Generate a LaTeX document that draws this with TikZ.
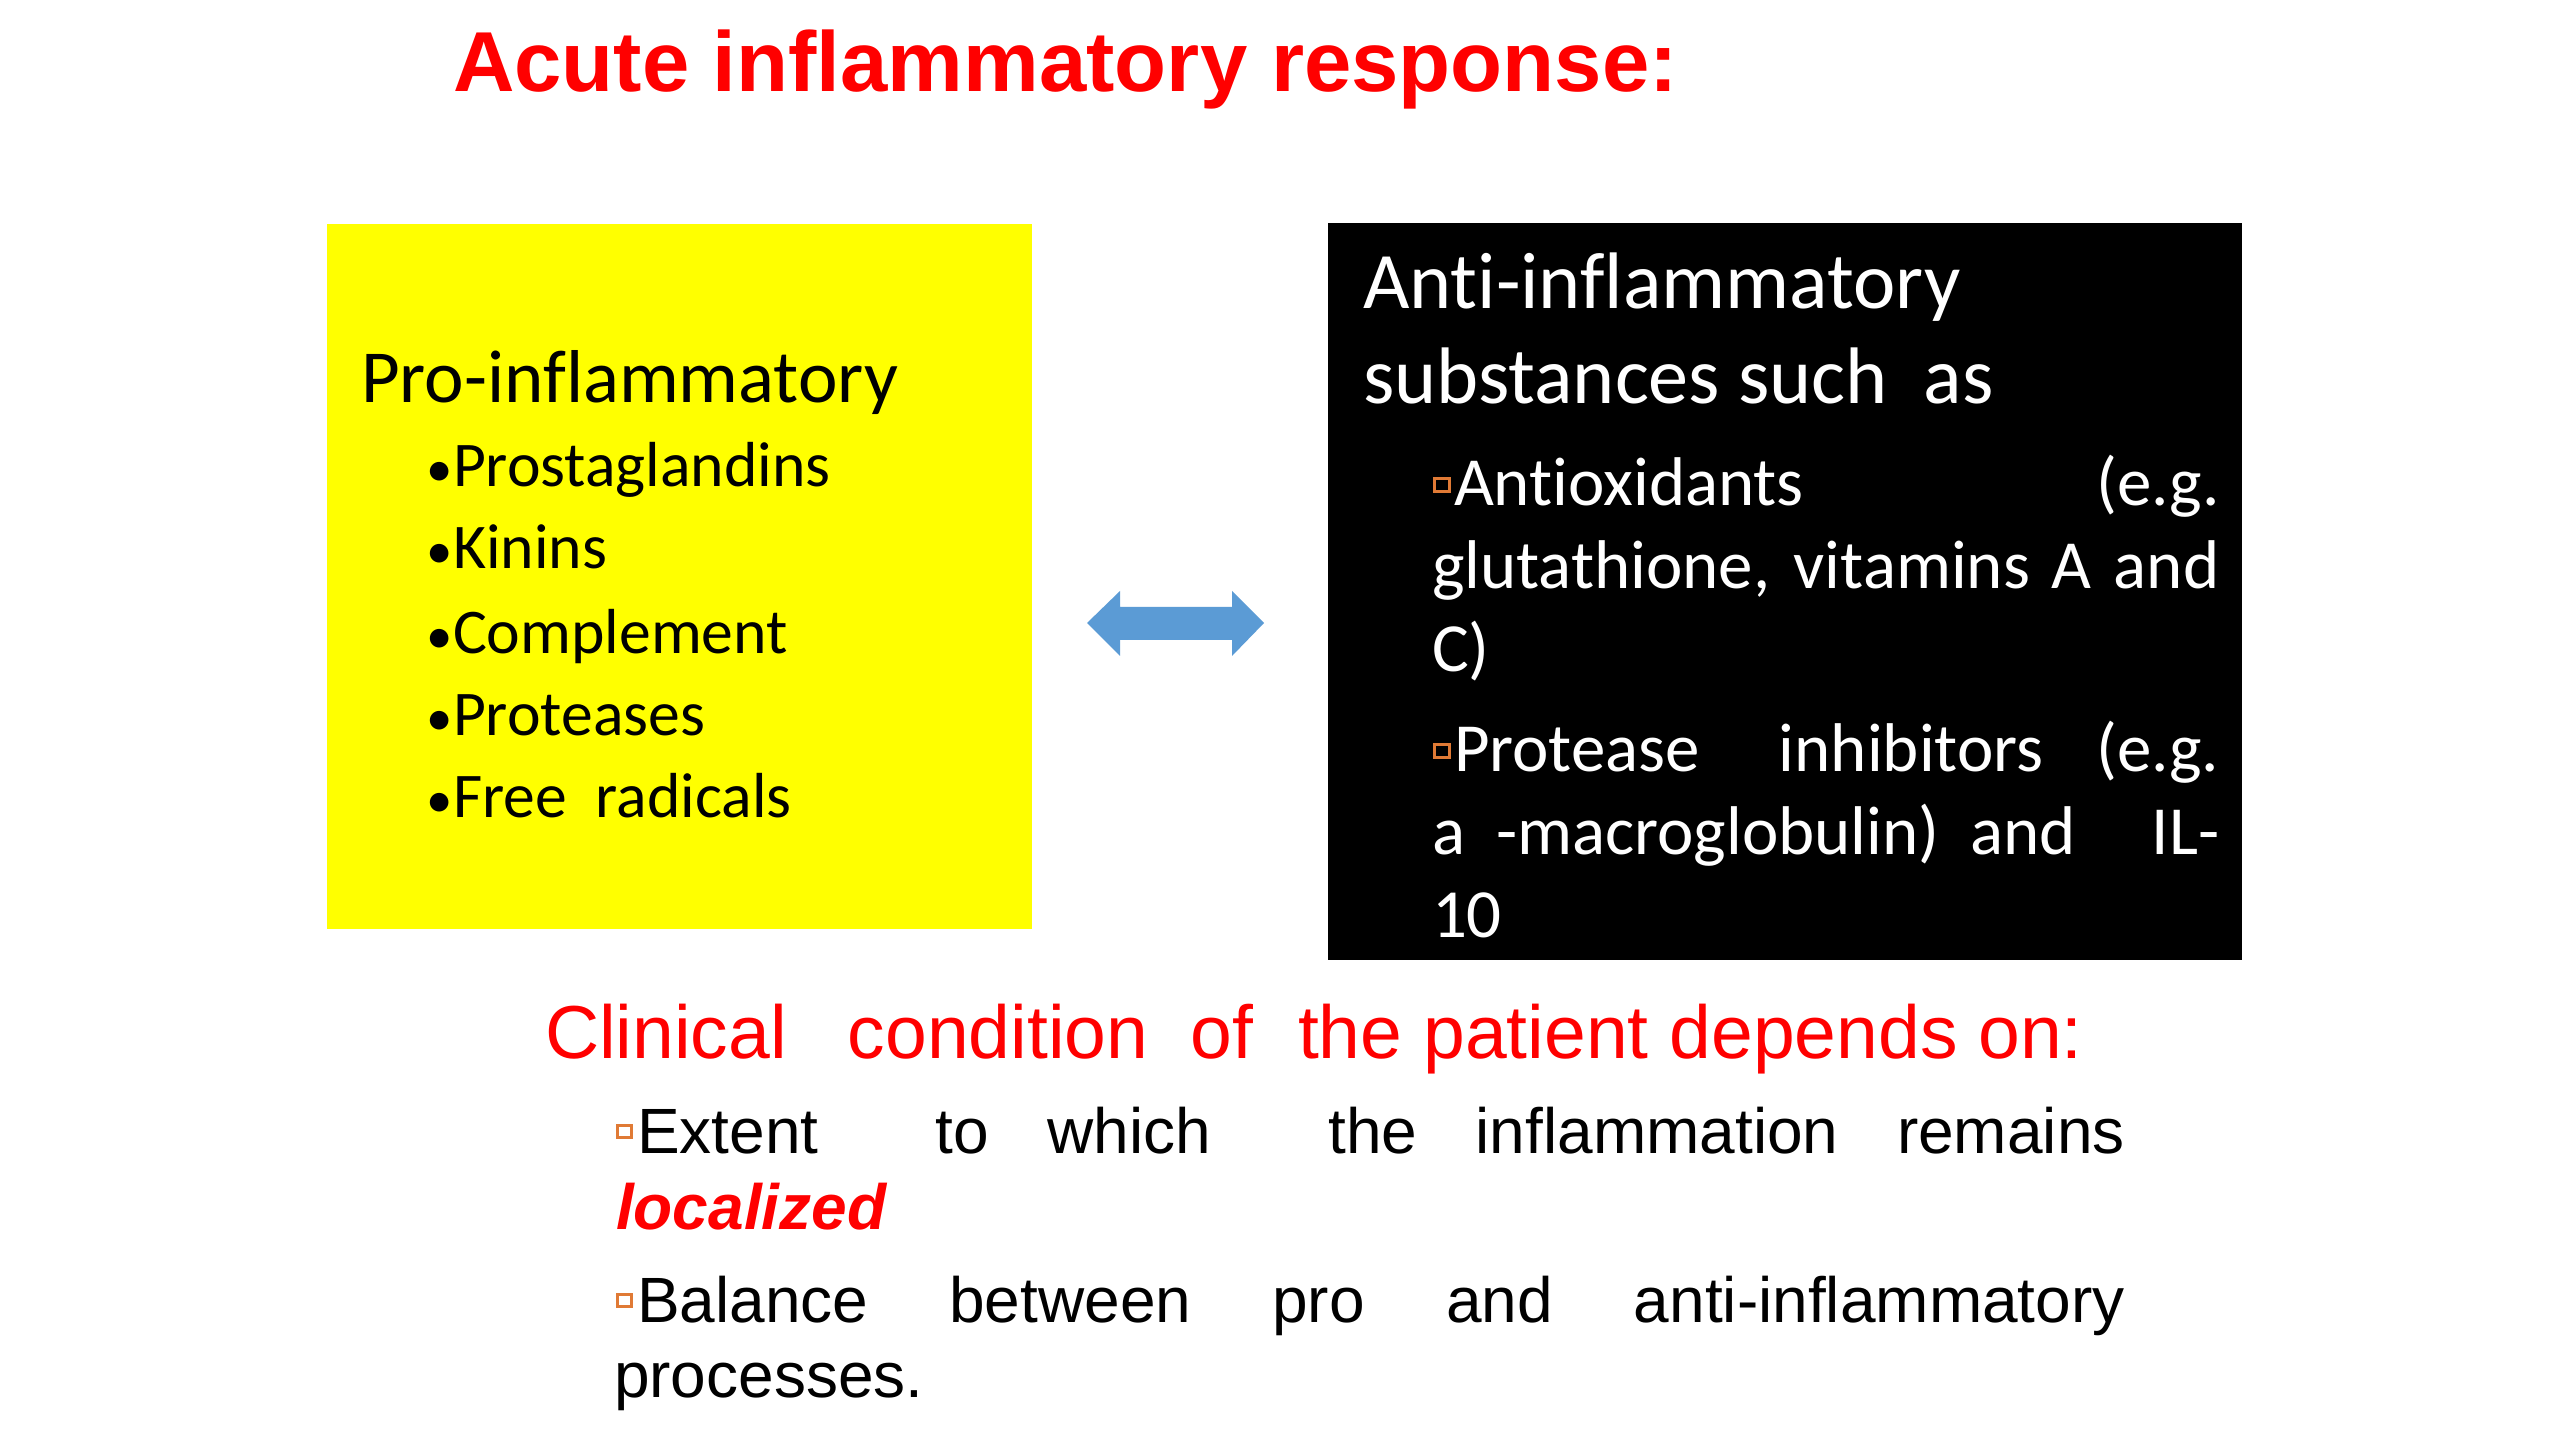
\documentclass[tikz,border=0pt]{standalone}
\usepackage{fontspec}
\setmainfont{Carlito}[Ligatures={NoCommon,NoRare,NoContextual}]
\newfontfamily\arialfont{Liberation Sans}
\definecolor{tred}{HTML}{FF0000}
\definecolor{arrowblue}{HTML}{5B9BD5}
\definecolor{sqorange}{HTML}{E07A35}
\definecolor{boxyellow}{HTML}{FFFF00}
\newcommand{\fsz}[1]{\fontsize{#1}{#1}\selectfont}
\begin{document}
\begin{tikzpicture}[x=0.01cm,y=-0.01cm,
  txt/.style={anchor=base west, inner sep=0pt, outer sep=0pt},
  titletxt/.style={txt, font=\arialfont\bfseries\fsz{24.2pt}, text=tred},
  prohead/.style={txt, font=\fsz{21.3pt}, text=black},
  proitem/.style={txt, font=\fsz{18.1pt}, text=black},
  probul/.style={anchor=base, inner sep=0pt, font=\fsz{15pt}, text=black},
  antihead/.style={txt, font=\fsz{22.8pt}, text=white},
  antiitem/.style={txt, font=\fsz{19.6pt}, text=white},
  clinhead/.style={txt, font=\arialfont\fsz{21.35pt}, text=tred},
  clinitem/.style={txt, font=\arialfont\fsz{18.2pt}, text=black},
  sqbulA/.style={draw=sqorange, line width=0.85pt, inner sep=0pt, minimum width=0.15cm, minimum height=0.13cm},
  sqbulB/.style={draw=sqorange, line width=0.85pt, inner sep=0pt, minimum width=0.14cm, minimum height=0.12cm},
  panel/.style={inner sep=0pt, outer sep=0pt, anchor=north west}
]
\useasboundingbox[fill=white] (0,0) rectangle (2560,1440);

% title
\node[titletxt] (title) at (453,92) {Acute inflammatory response:};

% yellow box
\node[panel, fill=boxyellow, minimum width=7.05cm, minimum height=7.05cm] (probox) at (327,224) {};
\node[prohead] (prohead) at (361,403) {Pro-inflammatory};
\node[probul] (pb1) at (440,487) {•};
\node[proitem] (p1) at (453,487) {Prostaglandins};
\node[probul] (pb2) at (440,569) {•};
\node[proitem] (p2) at (453,569) {Kinins};
\node[probul] (pb3) at (440,654) {•};
\node[proitem] (p3) at (453,654) {Complement};
\node[probul] (pb4) at (440,736) {•};
\node[proitem] (p4) at (453,736) {Proteases};
\node[probul] (pb5) at (440,818) {•};
\node[proitem] (p5) at (453,818) {Free\ \ radicals};

% black box
\node[panel, fill=black, minimum width=9.13cm, minimum height=7.37cm] (antibox) at (1328,223) {};
\node[antihead] (ah1) at (1363,309) {Anti-inflammatory};
\node[antihead] (ah2) at (1363,404) {substances such\ \ as};
\node[sqbulA] (ab1) at (1442,485) {};
\node[antiitem] (a1) at (1454,506) {\makebox[7.65cm][l]{Antioxidants\hfill(e.g.}};
\node[antiitem] (a2) at (1432,589) {\makebox[7.87cm][s]{glutathione, vitamins A and}};
\node[antiitem] (a3) at (1432,672) {C)};
\node[sqbulA] (ab2) at (1442,751) {};
\node[antiitem] (a4) at (1454,772) {\makebox[7.65cm][l]{Protease\hspace{\stretch{1.5}}inhibitors\hspace{\stretch{1}}(e.g.}};
\node[antiitem] (a5) at (1432,855) {\makebox[7.87cm][l]{a\ \ -macroglobulin)\ \ and\hfill IL-}};
\node[antiitem] (a6) at (1432,938) {10};

% double arrow
\fill[arrowblue] (1087,623) -- (1120,591) -- (1120,607) -- (1232,607) -- (1232,591)
  -- (1264,623) -- (1232,656) -- (1232,640) -- (1120,640) -- (1120,656) -- cycle;

% bottom text
\node[clinhead] (clin) at (545,1058) {Clinical\hspace{0.61cm}condition\hspace{0.42cm}of\hspace{0.45cm}the patient depends on:};
\node[sqbulB] (cb1) at (624.5,1131.5) {};
\node[clinitem] (c1) at (637,1153) {\makebox[14.87cm][l]{Extent\hspace{\stretch{2}}to\hspace{\stretch{1}}which\hspace{\stretch{2}}the\hspace{\stretch{1}}inflammation\hspace{\stretch{1}}remains}};
\node[clinitem, font=\arialfont\bfseries\itshape\fsz{18.2pt}, text=tred] (c2) at (616,1229) {localized};
\node[sqbulB] (cb2) at (624.5,1300.5) {};
\node[clinitem] (c3) at (637,1322) {\makebox[14.87cm][s]{Balance between pro and anti-inflammatory}};
\node[clinitem] (c4) at (614,1397) {processes.};
\end{tikzpicture}
\end{document}
